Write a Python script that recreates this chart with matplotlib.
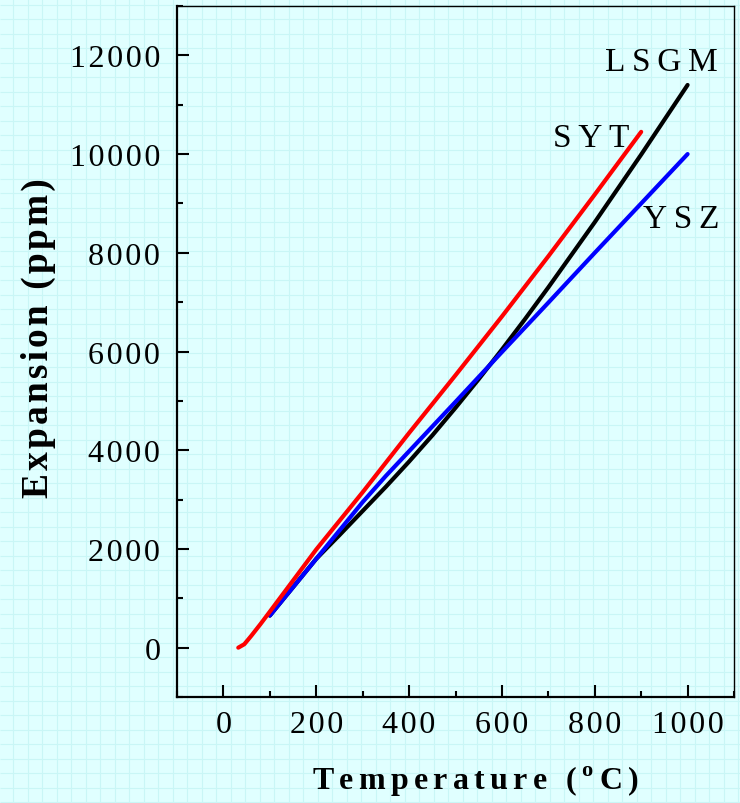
import numpy as np
import matplotlib
matplotlib.use('Agg')
from matplotlib import pyplot as plt
from matplotlib.ticker import MultipleLocator, FuncFormatter

# dilatometer curves, temperature (C) vs expansion (ppm)
lsgm_t = [100, 150, 200, 250, 300, 350, 400, 450, 500, 550, 600, 650, 700, 800, 900, 1000]
lsgm_e = [650, 1225, 1800, 2280, 2770, 3260, 3770, 4300, 4860, 5440, 6040, 6660, 7300, 8620, 9990, 11400]

ysz_t = [100, 150, 200, 300, 350, 400, 500, 600, 700, 800, 900, 1000]
ysz_e = [650, 1225, 1800, 2950, 3480, 3980, 4980, 5990, 6990, 8000, 9000, 10000]

syt_t = [32, 45, 60, 80, 100, 200, 300, 400, 500, 600, 700, 800, 900]
syt_e = [0, 70, 240, 480, 730, 1990, 3150, 4350, 5520, 6710, 7930, 9180, 10450]

labels = ['LSGM', 'SYT', 'YSZ']
label_pos = [(823, 11700), (711, 10160), (903, 8530)]

SERIF = ['Liberation Serif', 'DejaVu Serif']
THIN = '\u2009'
HAIR = '\u200a'


def spaced(s, sep=THIN):
    return sep.join(s)


def main():
    plt.rcParams['font.family'] = SERIF
    plt.rcParams['mathtext.fontset'] = 'custom'
    plt.rcParams['mathtext.bf'] = 'Liberation Serif:bold'
    plt.rcParams['mathtext.rm'] = 'Liberation Serif'

    fig = plt.figure(figsize=(7.4, 8.04), dpi=100)
    fig.patch.set_facecolor('#e0ffff')

    # squared paper behind everything
    bg = fig.add_axes([0, 0, 1, 1], zorder=-1)
    bg.set_xlim(0, 740)
    bg.set_ylim(804, 0)
    bg.axis('off')
    bg.vlines(np.arange(13.3, 740, 14.5), 0, 804, color='#c9f6f6', lw=0.8)
    bg.hlines(np.arange(5.5, 804, 14.5), 0, 740, color='#c9f6f6', lw=0.8)

    ax = fig.add_axes([0.2392, 0.1318, 0.7527, 0.8595])
    ax.set_facecolor('none')

    ax.plot(lsgm_t, lsgm_e, color='black', lw=3, solid_capstyle='round')
    ax.plot(ysz_t, ysz_e, color='#0000ff', lw=3, solid_capstyle='round')
    ax.plot(syt_t, syt_e, color='#ff0000', lw=3, solid_capstyle='round')

    for name, (x, y) in zip(labels, label_pos):
        ax.text(x, y, spaced(name), fontsize=24, ha='left', va='baseline')

    ax.set_xlim(-100, 1100)
    ax.set_ylim(-1000, 13000)
    ax.xaxis.set_major_locator(MultipleLocator(200))
    ax.xaxis.set_minor_locator(MultipleLocator(100))
    ax.yaxis.set_major_locator(MultipleLocator(2000))
    ax.yaxis.set_minor_locator(MultipleLocator(1000))

    fmt = FuncFormatter(lambda v, p: spaced(f'{v:.0f}', HAIR))
    ax.xaxis.set_major_formatter(fmt)
    ax.yaxis.set_major_formatter(fmt)

    ax.tick_params(which='both', direction='in', width=1.5,
                   top=False, right=False, labelsize=23)
    ax.tick_params(which='major', length=8.5)
    ax.tick_params(which='minor', length=4.3)
    ax.tick_params(axis='y', pad=12)
    ax.tick_params(axis='x', pad=9)

    for side in ['left', 'bottom']:
        ax.spines[side].set_linewidth(1.6)
    for side in ['top', 'right']:
        ax.spines[side].set_linewidth(1.0)

    fig.text(48 / 740, 1 - 338 / 804, spaced('Expansion (ppm)', HAIR),
             rotation=90, rotation_mode='anchor', ha='center', va='baseline',
             fontsize=27, fontweight='bold')
    sep = HAIR * 2
    xlab = spaced('Temperature (', sep) + sep + r'$^{\mathbf{o}}$' + sep + spaced('C)', sep)
    fig.text(475 / 740, 1 - 790 / 804, xlab, ha='center', va='baseline',
             fontsize=23, fontweight='bold')

    fig.savefig('out.png', dpi=100, facecolor=fig.get_facecolor())


if __name__ == '__main__':
    main()
